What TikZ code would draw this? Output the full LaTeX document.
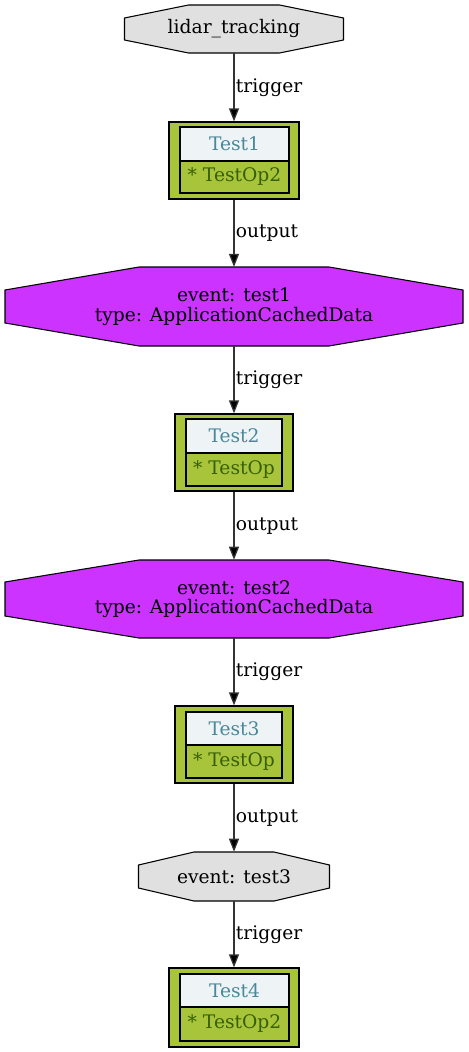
\documentclass[tikz,border=0pt]{standalone}
\usepackage{fontspec}
\setmainfont{DejaVu Serif}
\usetikzlibrary{arrows.meta}
\definecolor{recgreen}{HTML}{A8C43A}
\definecolor{titlefill}{HTML}{EEF3F6}
\definecolor{titletext}{HTML}{4A8799}
\definecolor{optext}{HTML}{375F05}
\definecolor{evgray}{HTML}{E0E0E0}
\definecolor{evmag}{HTML}{CC33FF}
\newcommand\octoshape[7]{%
  \filldraw[fill=#7,draw=black,line width=0.8pt,shift={(#1,#2)}]
    (-#5,-#4) -- (#5,-#4) -- (#3,-#6) -- (#3,#6) -- (#5,#4) -- (-#5,#4) -- (-#3,#6) -- (-#3,-#6) -- cycle;}
\tikzset{
  evnode/.style={inner sep=0pt,align=center,font=\fontsize{14}{14.5}\selectfont},
  recouter/.style={draw=black,fill=recgreen,line width=0.9pt,inner sep=0pt},
  rectitle/.style={draw=black,fill=titlefill,line width=0.9pt,inner sep=0pt,text=titletext,font=\fontsize{14}{16}\selectfont},
  recbody/.style={draw=black,fill=recgreen,line width=0.9pt,inner sep=0pt,text=optext,font=\fontsize{14}{16}\selectfont},
  flow/.style={draw=black!80,line width=0.95pt,-{Triangle[length=9.75pt,width=7.5pt,fill=black]}},
  elabel/.style={anchor=west,inner sep=0pt,xshift=1pt,font=\fontsize{14}{16}\selectfont}
}
\begin{document}
\begin{tikzpicture}[x=0.75pt,y=-0.75pt]
\useasboundingbox[fill=white] (0,0) rectangle (468,1052);
% lidar_tracking
\octoshape{234}{29}{109.5}{24}{45.5}{11}{evgray}
\node[evnode,minimum width=164pt,minimum height=36pt] (lidar) at (234,29) {lidar\_tracking};
% Test1
\node[recouter,minimum width=97.5pt,minimum height=57.75pt] (t1) at (234,160.5) {};
\node[rectitle,minimum width=81.75pt,minimum height=25.5pt] (t1a) at (234.5,144) {Test1};
\node[recbody,minimum width=81.75pt,minimum height=24pt] (t1b) at (234.5,177) {* TestOp2};
% event test1
\octoshape{234}{306.5}{229}{39.5}{95}{16.5}{evmag}
\node[evnode,minimum width=343pt,minimum height=59pt] (ev1) at (234,306.5) {event: test1\\type: ApplicationCachedData};
% Test2
\node[recouter,minimum width=88.5pt,minimum height=57.75pt] (t2) at (234,452.5) {};
\node[rectitle,minimum width=72pt,minimum height=25.5pt] (t2a) at (234,436) {Test2};
\node[recbody,minimum width=72pt,minimum height=24.75pt] (t2b) at (234,469.5) {* TestOp};
% event test2
\octoshape{234}{599}{229}{39}{95}{17}{evmag}
\node[evnode,minimum width=343pt,minimum height=58.5pt] (ev2) at (234,599) {event: test2\\type: ApplicationCachedData};
% Test3
\node[recouter,minimum width=88.5pt,minimum height=57.75pt] (t3) at (234,744.5) {};
\node[rectitle,minimum width=72pt,minimum height=24.75pt] (t3a) at (234,728.5) {Test3};
\node[recbody,minimum width=72pt,minimum height=24.75pt] (t3b) at (234,761.5) {* TestOp};
% event test3
\octoshape{234}{876.5}{95.5}{24.5}{40}{11.5}{evgray}
\node[evnode,minimum width=143pt,minimum height=36.75pt] (ev3) at (234,876.5) {event: test3};
% Test4
\node[recouter,minimum width=97.5pt,minimum height=59.25pt] (t4) at (234,1007.5) {};
\node[rectitle,minimum width=81.75pt,minimum height=24.75pt] (t4a) at (234.5,990.5) {Test4};
\node[recbody,minimum width=81.75pt,minimum height=25.5pt] (t4b) at (234.5,1024) {* TestOp2};
% edges
\draw[flow] (lidar.south) -- node[elabel] {trigger} (t1.north);
\draw[flow] (t1.south) -- node[elabel] {output} (ev1.north);
\draw[flow] (ev1.south) -- node[elabel] {trigger} (t2.north);
\draw[flow] (t2.south) -- node[elabel] {output} (ev2.north);
\draw[flow] (ev2.south) -- node[elabel] {trigger} (t3.north);
\draw[flow] (t3.south) -- node[elabel] {output} (ev3.north);
\draw[flow] (ev3.south) -- node[elabel] {trigger} (t4.north);
\end{tikzpicture}
\end{document}
